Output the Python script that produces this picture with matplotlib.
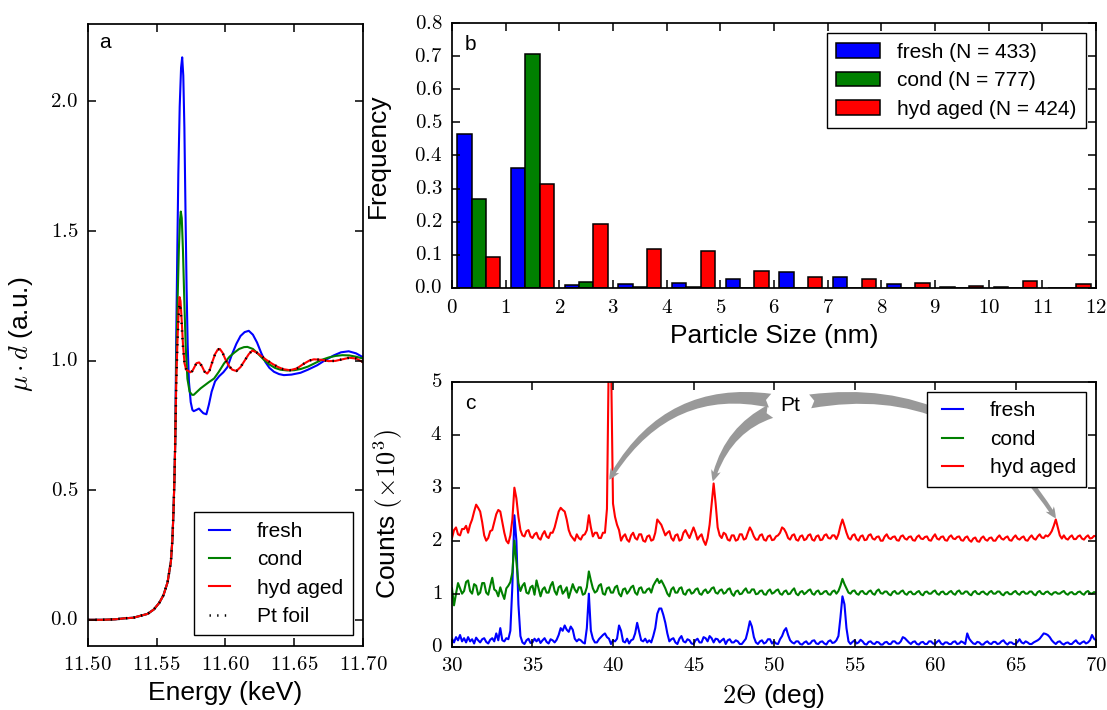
import numpy as np
import matplotlib.pyplot as plt
from matplotlib.ticker import FuncFormatter, MultipleLocator

plt.style.use("classic")
plt.rcParams["font.family"] = ["Liberation Sans", "DejaVu Sans"]
plt.rcParams["mathtext.fontset"] = "cm"
plt.rcParams["figure.facecolor"] = "white"
plt.rcParams["savefig.facecolor"] = "white"
plt.rcParams["axes.linewidth"] = 1.25

# ---------------- panel a : XANES ----------------
# shared pre-edge / edge
e_edge = [11.500, 11.510, 11.520, 11.527, 11.533, 11.5435, 11.548, 11.552, 11.555,
          11.558, 11.5604, 11.5615, 11.5623, 11.5630, 11.5636]
mu_edge = [0.000, 0.000, 0.002, 0.006, 0.008, 0.023, 0.040, 0.066, 0.095,
           0.145, 0.225, 0.310, 0.420, 0.550, 0.700]

e_fresh = [11.5642, 11.5650, 11.5658, 11.5668, 11.5678, 11.5686, 11.5694, 11.5702, 11.5710,
           11.5718, 11.5726, 11.5735, 11.5748, 11.5760, 11.5770, 11.5790, 11.5808, 11.5825,
           11.5840, 11.5862, 11.5880, 11.5900, 11.5925, 11.5955, 11.5985, 11.6015, 11.6045,
           11.6080, 11.6110, 11.6140, 11.6170, 11.6200, 11.6230, 11.6260, 11.6290, 11.6320,
           11.6353, 11.6390, 11.6425, 11.6480, 11.6546, 11.6600, 11.6667, 11.6720, 11.6787,
           11.6840, 11.6896, 11.6950, 11.7000]
mu_fresh = [1.05, 1.40, 1.72, 1.98, 2.13, 2.17, 2.10, 1.90, 1.58,
            1.28, 1.06, 0.92, 0.84, 0.81, 0.805, 0.810, 0.815, 0.805,
            0.797, 0.793, 0.830, 0.880, 0.920, 0.940, 0.955, 0.975, 1.020,
            1.065, 1.095, 1.110, 1.115, 1.100, 1.070, 1.030, 0.995, 0.972,
            0.957, 0.948, 0.944, 0.946, 0.953, 0.965, 0.982, 1.000, 1.020,
            1.032, 1.036, 1.028, 1.013]

e_cond = [11.5643, 11.5652, 11.5662, 11.5670, 11.5676, 11.5683, 11.5692, 11.5702, 11.5712,
          11.5724, 11.5740, 11.5758, 11.5770, 11.5790, 11.5820, 11.5850, 11.5880, 11.5918,
          11.5950, 11.5990, 11.6030, 11.6063, 11.6100, 11.6135, 11.6160, 11.6200, 11.6240,
          11.6280, 11.6320, 11.6360, 11.6400, 11.6450, 11.6500, 11.6550, 11.6600, 11.6650,
          11.6700, 11.6750, 11.6800, 11.6850, 11.6900, 11.6950, 11.7000]
mu_cond = [0.98, 1.22, 1.43, 1.54, 1.575, 1.55, 1.42, 1.22, 1.05,
           0.93, 0.88, 0.868, 0.868, 0.878, 0.893, 0.905, 0.917, 0.931,
           0.955, 0.989, 1.015, 1.030, 1.045, 1.052, 1.053, 1.045, 1.025,
           1.003, 0.985, 0.972, 0.965, 0.962, 0.963, 0.968, 0.977, 0.990,
           1.003, 1.012, 1.018, 1.021, 1.020, 1.015, 1.008]

e_hyd = [11.5643, 11.5652, 11.5660, 11.5667, 11.5674, 11.5682, 11.5692, 11.5703, 11.5715,
         11.5730, 11.5745, 11.5760, 11.5775, 11.5790, 11.5809, 11.5828, 11.5848, 11.5868,
         11.5885, 11.5905, 11.5925, 11.5945, 11.5960, 11.5980, 11.6000, 11.6025, 11.6050,
         11.6080, 11.6110, 11.6140, 11.6170, 11.6196, 11.6225, 11.6260, 11.6300, 11.6340,
         11.6380, 11.6420, 11.6469, 11.6520, 11.6570, 11.6610, 11.6643, 11.6700, 11.6750,
         11.6800, 11.6850, 11.6900, 11.6950, 11.7000]
mu_hyd = [0.92, 1.08, 1.19, 1.245, 1.23, 1.16, 1.06, 0.99, 0.965,
          0.960, 0.955, 0.960, 0.975, 0.990, 0.993, 0.980, 0.958, 0.950,
          0.962, 0.995, 1.025, 1.043, 1.045, 1.030, 1.005, 0.980, 0.965,
          0.960, 0.975, 1.000, 1.025, 1.039, 1.032, 1.018, 1.002, 0.988,
          0.976, 0.967, 0.963, 0.970, 0.988, 1.000, 1.005, 1.003, 0.998,
          0.999, 1.005, 1.011, 1.008, 0.994]
mu_foil = [0.91, 1.07, 1.17, 1.22, 1.20, 1.14, 1.05, 0.99, 0.965,
           0.960, 0.955, 0.960, 0.975, 0.990, 0.993, 0.980, 0.958, 0.950,
           0.962, 0.995, 1.025, 1.043, 1.045, 1.030, 1.005, 0.980, 0.965,
           0.960, 0.975, 1.000, 1.025, 1.039, 1.032, 1.018, 1.002, 0.988,
           0.976, 0.967, 0.963, 0.970, 0.988, 1.000, 1.005, 1.003, 0.998,
           0.999, 1.005, 1.011, 1.008, 0.994]

# ---------------- panel b : particle size histogram ----------------
size_bins = [0, 1, 2, 3, 4, 5, 6, 7, 8, 9, 10, 11]
freq_fresh = [0.466, 0.362, 0.009, 0.011, 0.014, 0.028, 0.048, 0.034, 0.011, 0.004, 0.004, 0.0]
freq_cond = [0.270, 0.707, 0.018, 0.003, 0.002, 0.0, 0.0, 0.0, 0.0, 0.0, 0.0, 0.0]
freq_hyd = [0.094, 0.313, 0.194, 0.118, 0.113, 0.051, 0.033, 0.027, 0.016, 0.005, 0.020, 0.011]
n_fresh, n_cond, n_hyd = 433, 777, 424

# ---------------- panel c : XRD ----------------
# scan grid: 30-70 deg, 0.125 deg step (8 readings per degree row below)
two_theta = np.linspace(30, 70, 321)

counts_fresh = [
    .15, .08, .18, .12, .22, .10, .16, .08,      # 30
    .18, .10, .14, .06, .17, .12, .08, .14,      # 31
    .16, .09, .06, .13, .16, .10, .25, .12,      # 32
    .35, .12, .10, .16, .14, .30, 1.15, 2.48,    # 33
    2.00, .80, .20, .08, .05, .12, .15, .07,     # 34
    .08, .15, .10, .15, .07, .12, .16, .09,      # 35
    .06, .14, .12, .08, .13, .22, .35, .30,      # 36
    .40, .32, .28, .38, .32, .15, .10, .14,      # 37
    .12, .08, .06, .35, 1.00, .30, .15, .08,     # 38
    .08, .14, .18, .22, .25, .18, .15, .05,      # 39
    .12, .10, .15, .40, .30, .10, .08, .15,      # 40
    .06, .12, .14, .25, .45, .28, .12, .10,      # 41
    .15, .08, .12, .08, .20, .35, .62, .72,      # 42
    .72, .60, .45, .25, .10, .14, .16, .08,      # 43
    .05, .15, .20, .10, .08, .14, .12, .06,      # 44
    .05, .12, .15, .08, .08, .18, .16, .10,      # 45
    .20, .16, .08, .15, .14, .08, .12, .15,      # 46
    .05, .12, .14, .08, .08, .12, .10, .05,      # 47
    .05, .10, .15, .30, .48, .38, .18, .08,      # 48
    .05, .10, .12, .06, .08, .14, .14, .06,      # 49
    .10, .06, .05, .14, .20, .30, .35, .22,      # 50
    .12, .08, .06, .10, .10, .05, .04, .08,      # 51
    .10, .05, .06, .11, .12, .06, .05, .09,      # 52
    .10, .06, .04, .10, .12, .07, .08, .12,      # 53
    .20, .55, .95, .80, .35, .10, .05, .09,      # 54
    .12, .06, .08, .13, .10, .05, .04, .09,      # 55
    .10, .06, .05, .09, .08, .04, .04, .08,      # 56
    .09, .05, .05, .10, .10, .06, .06, .10,      # 57
    .18, .16, .12, .08, .05, .09, .10, .05,      # 58
    .04, .08, .09, .05, .05, .10, .10, .06,      # 59
    .05, .09, .12, .06, .04, .08, .08, .05,      # 60
    .05, .09, .10, .05, .06, .10, .08, .05,      # 61
    .25, .15, .10, .06, .05, .09, .08, .04,      # 62
    .04, .08, .10, .06, .05, .09, .09, .05,      # 63
    .06, .10, .12, .07, .04, .08, .08, .05,      # 64
    .05, .09, .14, .08, .06, .10, .08, .05,      # 65
    .05, .08, .10, .12, .15, .20, .25, .24,      # 66
    .22, .18, .12, .08, .05, .09, .10, .06,      # 67
    .04, .07, .08, .05, .05, .09, .12, .07,      # 68
    .05, .08, .10, .06, .08, .12, .22, .15,      # 69
    .12]

counts_cond = [
    1.10, 0.78, 1.00, 1.20, 1.10, 1.00, 1.05, 1.22,   # 30
    1.25, 1.05, 1.00, 1.18, 1.15, 0.98, 1.02, 1.20,   # 31
    1.20, 1.02, 0.98, 1.15, 1.30, 1.08, 1.05, 0.95,   # 32
    1.12, 1.00, 0.90, 1.10, 1.15, 1.22, 1.40, 2.00,   # 33
    1.60, 1.20, 1.05, 1.15, 1.20, 1.02, 1.00, 1.12,   # 34
    1.15, 0.98, 1.25, 1.10, 0.95, 1.08, 1.12, 1.02,   # 35
    1.02, 1.15, 1.22, 1.05, 0.98, 1.12, 1.15, 1.00,   # 36
    1.05, 1.12, 0.92, 1.05, 1.18, 1.08, 1.02, 1.12,   # 37
    1.12, 0.98, 1.00, 1.12, 1.42, 1.25, 1.10, 1.02,   # 38
    1.05, 1.15, 1.18, 1.00, 0.98, 1.10, 1.12, 1.02,   # 39
    1.02, 1.12, 1.15, 1.00, 0.95, 1.08, 1.10, 1.00,   # 40
    1.05, 1.12, 1.15, 1.02, 0.98, 1.10, 1.12, 1.02,   # 41
    1.02, 1.08, 1.10, 1.02, 1.15, 1.22, 1.28, 1.20,   # 42
    1.25, 1.18, 1.10, 1.00, 0.95, 1.08, 1.12, 1.02,   # 43
    1.02, 1.10, 1.12, 1.00, 0.98, 1.06, 1.08, 1.00,   # 44
    1.02, 1.08, 1.10, 1.00, 0.98, 1.05, 1.08, 1.01,   # 45
    1.04, 1.10, 1.12, 1.02, 1.00, 1.06, 1.08, 1.00,   # 46
    1.02, 1.08, 1.10, 1.00, 0.96, 1.04, 1.06, 0.99,   # 47
    1.00, 1.06, 1.10, 1.02, 1.02, 1.08, 1.08, 0.99,   # 48
    1.00, 1.05, 1.06, 0.99, 0.98, 1.05, 1.08, 1.00,   # 49
    1.02, 1.06, 1.08, 1.00, 0.98, 1.04, 1.06, 0.99,   # 50
    1.00, 1.06, 1.10, 1.00, 0.97, 1.03, 1.05, 0.99,   # 51
    1.02, 1.06, 1.08, 1.00, 0.98, 1.04, 1.06, 0.99,   # 52
    1.00, 1.04, 1.05, 0.99, 0.98, 1.04, 1.06, 1.00,   # 53
    1.05, 1.15, 1.28, 1.18, 1.10, 1.02, 1.00, 1.05,   # 54
    1.06, 1.00, 0.98, 1.04, 1.05, 1.00, 0.99, 1.04,   # 55
    1.06, 1.00, 0.98, 1.05, 1.08, 1.01, 1.00, 1.04,   # 56
    1.04, 0.99, 0.97, 1.03, 1.05, 1.00, 1.00, 1.04,   # 57
    1.06, 1.00, 0.98, 1.03, 1.04, 0.99, 0.99, 1.03,   # 58
    1.05, 0.99, 0.97, 1.03, 1.04, 1.00, 1.00, 1.04,   # 59
    1.06, 1.00, 0.98, 1.03, 1.04, 0.99, 0.99, 1.03,   # 60
    1.05, 1.00, 0.98, 1.04, 1.06, 1.00, 1.00, 1.04,   # 61
    1.04, 0.99, 0.97, 1.03, 1.05, 1.00, 0.99, 1.03,   # 62
    1.04, 1.00, 0.98, 1.03, 1.05, 1.00, 1.00, 1.04,   # 63
    1.04, 0.99, 0.97, 1.02, 1.03, 0.99, 0.99, 1.03,   # 64
    1.05, 1.00, 0.98, 1.03, 1.04, 1.00, 1.00, 1.04,   # 65
    1.04, 0.99, 0.97, 1.03, 1.05, 1.00, 0.99, 1.03,   # 66
    1.04, 1.00, 0.98, 1.02, 1.03, 1.00, 1.00, 1.03,   # 67
    1.05, 1.00, 0.98, 1.02, 1.03, 0.99, 0.99, 1.03,   # 68
    1.04, 1.00, 0.98, 1.03, 1.05, 1.01, 1.00, 1.03,   # 69
    1.02]

counts_hyd = [
    2.05, 2.20, 2.25, 2.12, 2.10, 2.22, 2.22, 2.28,   # 30
    2.15, 2.30, 2.40, 2.55, 2.68, 2.62, 2.55, 2.35,   # 31
    2.10, 2.00, 2.05, 2.18, 2.20, 2.35, 2.50, 2.58,   # 32
    2.55, 2.35, 2.15, 2.00, 1.95, 2.10, 2.40, 3.00,   # 33
    2.80, 2.45, 2.20, 2.10, 2.08, 2.18, 2.20, 2.08,   # 34
    2.05, 2.12, 2.15, 2.05, 2.02, 2.12, 2.18, 2.08,   # 35
    2.05, 2.15, 2.15, 2.25, 2.40, 2.55, 2.62, 2.58,   # 36
    2.55, 2.40, 2.20, 2.10, 2.05, 2.00, 2.12, 2.05,   # 37
    2.02, 2.10, 2.12, 2.20, 2.48, 2.25, 2.08, 2.15,   # 38
    2.15, 2.05, 2.05, 2.15, 2.15, 2.60, 5.80, 5.50,   # 39
    2.70, 2.45, 2.30, 2.20, 2.00, 2.08, 2.12, 2.02,   # 40
    1.98, 2.10, 2.15, 2.05, 2.02, 2.12, 2.12, 2.00,   # 41
    1.98, 2.08, 2.10, 2.00, 2.02, 2.15, 2.40, 2.35,   # 42
    2.30, 2.20, 2.10, 2.15, 2.18, 2.05, 2.00, 2.10,   # 43
    2.12, 2.00, 2.02, 2.15, 2.20, 2.12, 2.05, 2.15,   # 44
    2.25, 2.15, 2.02, 2.08, 2.12, 2.00, 1.92, 2.05,   # 45
    2.30, 2.70, 3.08, 2.70, 2.25, 2.10, 2.05, 2.15,   # 46
    2.12, 2.02, 2.00, 2.10, 2.10, 2.00, 2.02, 2.12,   # 47
    2.12, 2.02, 2.04, 2.15, 2.25, 2.18, 2.08, 2.02,   # 48
    2.02, 2.10, 2.12, 2.02, 2.00, 2.08, 2.10, 2.01,   # 49
    2.02, 2.08, 2.10, 2.15, 2.25, 2.22, 2.15, 2.05,   # 50
    2.02, 2.10, 2.12, 2.02, 2.00, 2.08, 2.10, 2.01,   # 51
    2.03, 2.10, 2.12, 2.02, 2.00, 2.08, 2.10, 2.01,   # 52
    2.02, 2.10, 2.12, 2.05, 2.04, 2.10, 2.10, 2.03,   # 53
    2.12, 2.28, 2.40, 2.28, 2.15, 2.05, 2.02, 2.10,   # 54
    2.12, 2.03, 2.00, 2.08, 2.10, 2.01, 2.02, 2.10,   # 55
    2.12, 2.04, 2.02, 2.07, 2.08, 2.00, 2.00, 2.08,   # 56
    2.12, 2.05, 2.03, 2.07, 2.08, 2.01, 2.00, 2.08,   # 57
    2.10, 2.04, 2.02, 2.07, 2.08, 2.01, 2.00, 2.07,   # 58
    2.10, 2.04, 2.03, 2.07, 2.08, 2.01, 2.00, 2.07,   # 59
    2.12, 2.04, 2.02, 2.07, 2.08, 2.01, 2.00, 2.07,   # 60
    2.10, 2.04, 2.03, 2.07, 2.08, 2.01, 2.00, 2.06,   # 61
    2.08, 2.01, 1.98, 2.04, 2.06, 1.99, 1.98, 2.05,   # 62
    2.08, 2.02, 2.00, 2.05, 2.06, 2.00, 2.00, 2.06,   # 63
    2.10, 2.04, 2.02, 2.06, 2.08, 2.01, 2.00, 2.06,   # 64
    2.10, 2.04, 2.02, 2.06, 2.08, 2.01, 2.00, 2.06,   # 65
    2.10, 2.04, 2.02, 2.08, 2.12, 2.06, 2.05, 2.10,   # 66
    2.08, 2.12, 2.18, 2.28, 2.40, 2.25, 2.10, 2.04,   # 67
    2.10, 2.04, 2.02, 2.07, 2.10, 2.03, 2.03, 2.08,   # 68
    2.10, 2.04, 2.02, 2.07, 2.10, 2.04, 2.05, 2.09,   # 69
    2.08]

pt_label_pos = (51.0, 4.56)
pt_peaks = [(39.77, 3.15, 0.38), (46.2, 3.12, 0.3), (67.5, 2.42, -0.35)]

TICK_FS = 15
LABEL_FS = 19
LEG_FS = 15


def tex_fmt(fmt):
    return FuncFormatter(lambda v, p: "$" + (fmt % v) + "$")


def style_axes(ax):
    ax.tick_params(which="major", direction="in", length=6, width=1.1,
                   labelsize=TICK_FS, pad=7, top=True, right=True)
    ax.tick_params(which="minor", length=0)


fig = plt.figure(figsize=(11.07, 7.10), dpi=100)
ax_a = fig.add_axes([0.0793, 0.0905, 0.2486, 0.8762])
ax_b = fig.add_axes([0.4083, 0.5944, 0.5818, 0.3732])
ax_c = fig.add_axes([0.4083, 0.0892, 0.5818, 0.3732])

# panel a
ax_a.plot(e_edge + e_fresh, mu_edge + mu_fresh, color="b", lw=1.5, label="fresh")
ax_a.plot(e_edge + e_cond, mu_edge + mu_cond, color="g", lw=1.5, label="cond")
ax_a.plot(e_edge + e_hyd, mu_edge + mu_hyd, color="r", lw=1.5, label="hyd aged")
ax_a.plot(e_edge + e_hyd, mu_edge + mu_foil, color="k", lw=1.8,
          linestyle=(0, (1.0, 4.5)), label="Pt foil")
ax_a.set_xlim(11.5, 11.7)
ax_a.set_ylim(-0.1, 2.3)
ax_a.xaxis.set_major_locator(MultipleLocator(0.05))
ax_a.yaxis.set_major_locator(MultipleLocator(0.5))
ax_a.xaxis.set_major_formatter(tex_fmt("%.2f"))
ax_a.yaxis.set_major_formatter(tex_fmt("%.1f"))
style_axes(ax_a)
ax_a.set_xlabel("Energy (keV)", fontsize=LABEL_FS)
ax_a.set_ylabel(r"$\mu \cdot d$ (a.u.)", fontsize=LABEL_FS)
ax_a.yaxis.set_label_coords(-0.19, 0.5)
ax_a.text(0.04, 0.985, "a", transform=ax_a.transAxes, fontsize=LEG_FS, va="top", ha="left")
ax_a.legend(loc="lower right", fontsize=LEG_FS, handlelength=1.6, handletextpad=1.0,
            labelspacing=0.45, borderpad=0.45, numpoints=2)

# panel b
bar_w = 0.8 / 3
bins = np.array(size_bins, dtype=float)
for i, (vals, col, lab) in enumerate([
        (freq_fresh, "b", "fresh (N = %d)" % n_fresh),
        (freq_cond, "g", "cond (N = %d)" % n_cond),
        (freq_hyd, "r", "hyd aged (N = %d)" % n_hyd)]):
    ax_b.bar(bins + 0.1 + i * bar_w, vals, width=bar_w, align="edge",
             color=col, edgecolor="k", linewidth=1.1, label=lab)
ax_b.set_xlim(0, 12)
ax_b.set_ylim(0, 0.8)
ax_b.xaxis.set_major_locator(MultipleLocator(1))
ax_b.yaxis.set_major_locator(MultipleLocator(0.1))
ax_b.xaxis.set_major_formatter(tex_fmt("%d"))
ax_b.yaxis.set_major_formatter(tex_fmt("%.1f"))
style_axes(ax_b)
ax_b.set_xlabel("Particle Size (nm)", fontsize=LABEL_FS)
ax_b.set_ylabel("Frequency", fontsize=LABEL_FS)
ax_b.yaxis.set_label_coords(-0.096, 0.5)
ax_b.text(0.02, 0.956, "b", transform=ax_b.transAxes, fontsize=LEG_FS, va="top", ha="left")
ax_b.legend(loc="upper right", fontsize=LEG_FS, handlelength=2.1, handletextpad=0.8,
            labelspacing=0.45, borderpad=0.45)

# panel c
ax_c.plot(two_theta, counts_fresh, color="b", lw=1.5, label="fresh")
ax_c.plot(two_theta, counts_cond, color="g", lw=1.5, label="cond")
ax_c.plot(two_theta, counts_hyd, color="r", lw=1.5, label="hyd aged")
ax_c.set_xlim(30, 70)
ax_c.set_ylim(0, 5)
ax_c.xaxis.set_major_locator(MultipleLocator(5))
ax_c.yaxis.set_major_locator(MultipleLocator(1))
ax_c.xaxis.set_major_formatter(tex_fmt("%d"))
ax_c.yaxis.set_major_formatter(tex_fmt("%d"))
style_axes(ax_c)
ax_c.set_xlabel(r"$2\Theta$ (deg)", fontsize=LABEL_FS)
ax_c.set_ylabel(r"Counts $(\times 10^3)$", fontsize=LABEL_FS)
ax_c.yaxis.set_label_coords(-0.073, 0.5)
ax_c.text(0.02, 0.953, "c", transform=ax_c.transAxes, fontsize=LEG_FS, va="top", ha="left")

for k, (px, py, rad) in enumerate(pt_peaks):
    ax_c.annotate("Pt", xy=(px, py), xytext=pt_label_pos, fontsize=LEG_FS,
                  ha="center", va="center", color="k" if k == 0 else "none",
                  arrowprops=dict(arrowstyle="fancy,head_length=0.4,head_width=0.35,tail_width=0.5",
                                  fc="0.6", ec="none", mutation_scale=20, shrinkA=5, shrinkB=0,
                                  connectionstyle="arc3,rad=%.2f" % rad))

ax_c.legend(loc="upper right", fontsize=LEG_FS, handlelength=1.6, handletextpad=1.0,
            labelspacing=0.45, borderpad=0.45, numpoints=2)

fig.savefig("out.png", dpi=100)
